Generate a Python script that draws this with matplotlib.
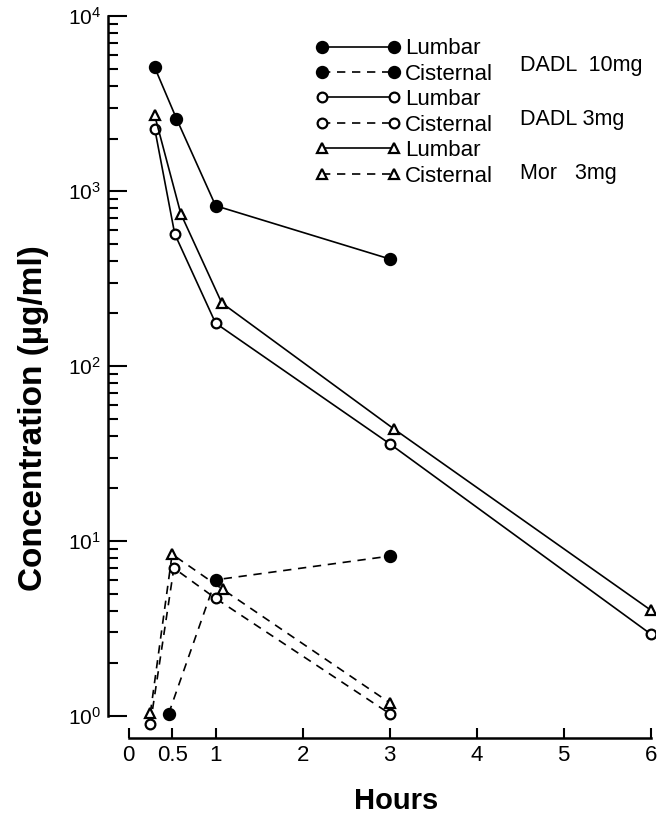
import matplotlib.pyplot as plt
from matplotlib.ticker import FixedLocator, FixedFormatter, LogFormatterSciNotation, NullFormatter

plt.rcParams['font.family'] = ['Liberation Sans', 'DejaVu Sans']

# DADL 10mg
dadl10_lum_t = [0.30, 0.55, 1.0, 3.0]
dadl10_lum_c = [5100, 2600, 826, 410]
dadl10_cis_t = [0.46, 1.0, 3.0]
dadl10_cis_c = [1.03, 6.0, 8.2]
# DADL 3mg
dadl3_lum_t = [0.30, 0.53, 1.0, 3.0, 6.0]
dadl3_lum_c = [2280, 570, 176, 36, 2.94]
dadl3_cis_t = [0.25, 0.52, 1.0, 3.0]
dadl3_cis_c = [0.90, 7.0, 4.7, 1.03]
# Morphine 3mg
mor3_lum_t = [0.30, 0.60, 1.07, 3.05, 6.0]
mor3_lum_c = [2710, 743, 230, 43.7, 4.03]
mor3_cis_t = [0.25, 0.50, 1.08, 3.0]
mor3_cis_c = [1.04, 8.4, 5.3, 1.19]

xticks = [0, 0.5, 1, 2, 3, 4, 5, 6]
xticklabels = ['0', '0.5', '1', '2', '3', '4', '5', '6']
yticks = [1, 10, 100, 1000, 10000]
groups = ['DADL  10mg', 'DADL 3mg', 'Mor   3mg']

fig = plt.figure(figsize=(6.65, 8.16), dpi=100)
ax = fig.add_axes([0.162, 0.0956, 0.823, 0.8844])

dash = (0, (5, 4))
lw = 1.2
series = [
    (dadl10_lum_t, dadl10_lum_c, 'o', 'k', '-', 'Lumbar'),
    (dadl10_cis_t, dadl10_cis_c, 'o', 'k', dash, 'Cisternal'),
    (dadl3_lum_t, dadl3_lum_c, 'o', 'w', '-', 'Lumbar'),
    (dadl3_cis_t, dadl3_cis_c, 'o', 'w', dash, 'Cisternal'),
    (mor3_lum_t, mor3_lum_c, '^', 'w', '-', 'Lumbar'),
    (mor3_cis_t, mor3_cis_c, '^', 'w', dash, 'Cisternal'),
]
for t, c, m, fc, ls, lab in series:
    ms = 8 if fc == 'k' else 7
    ax.plot(t, c, marker=m, ms=ms, mfc=fc, mec='k', mew=1.6, color='k',
            ls=ls, lw=lw, label=lab)

ax.set_yscale('log')
ax.set_xlim(-0.24, 6.05)
ax.set_ylim(0.748, 1e4)

for s in ['top', 'right']:
    ax.spines[s].set_visible(False)
ax.spines['left'].set_bounds(1, 1e4)
ax.spines['bottom'].set_bounds(0, 6)
ax.spines['left'].set_linewidth(1.8)
ax.spines['bottom'].set_linewidth(1.8)

# minor ticks only inside the decades that are drawn
minors = [m * d for d in yticks[:-1] for m in range(2, 10)]
ax.yaxis.set_major_locator(FixedLocator(yticks))
ax.yaxis.set_major_formatter(LogFormatterSciNotation())
ax.yaxis.set_minor_locator(FixedLocator(minors))
ax.yaxis.set_minor_formatter(NullFormatter())
ax.tick_params(axis='y', which='major', direction='in', length=14, width=1.5,
               labelsize=15, pad=5)
ax.tick_params(axis='y', which='minor', direction='in', length=7, width=1.5)

ax.xaxis.set_major_locator(FixedLocator(xticks))
ax.xaxis.set_major_formatter(FixedFormatter(xticklabels))
ax.tick_params(axis='x', direction='in', length=7, width=1.5, labelsize=16, pad=5)

ax.set_ylabel('Concentration (\u00b5g/ml)', fontsize=24, fontweight='bold', va='center')
ax.yaxis.set_label_coords(-0.135, 0.443)
ax.set_xlabel('Hours', fontsize=21, fontweight='bold', va='center')
ax.xaxis.set_label_coords(0.527, -0.087)

leg = ax.legend(loc='upper left', bbox_to_anchor=(0.474, 0.953),
                bbox_transform=fig.transFigure, frameon=False, numpoints=2,
                handlelength=3.84, handletextpad=0.2, labelspacing=0.2,
                borderpad=0, borderaxespad=0, fontsize=16)

for i, g in enumerate(groups):
    fig.text(520 / 665, 1 - (65 + 54 * i) / 816, g, fontsize=15.5, va='center')

fig.savefig('out.png', dpi=100)
